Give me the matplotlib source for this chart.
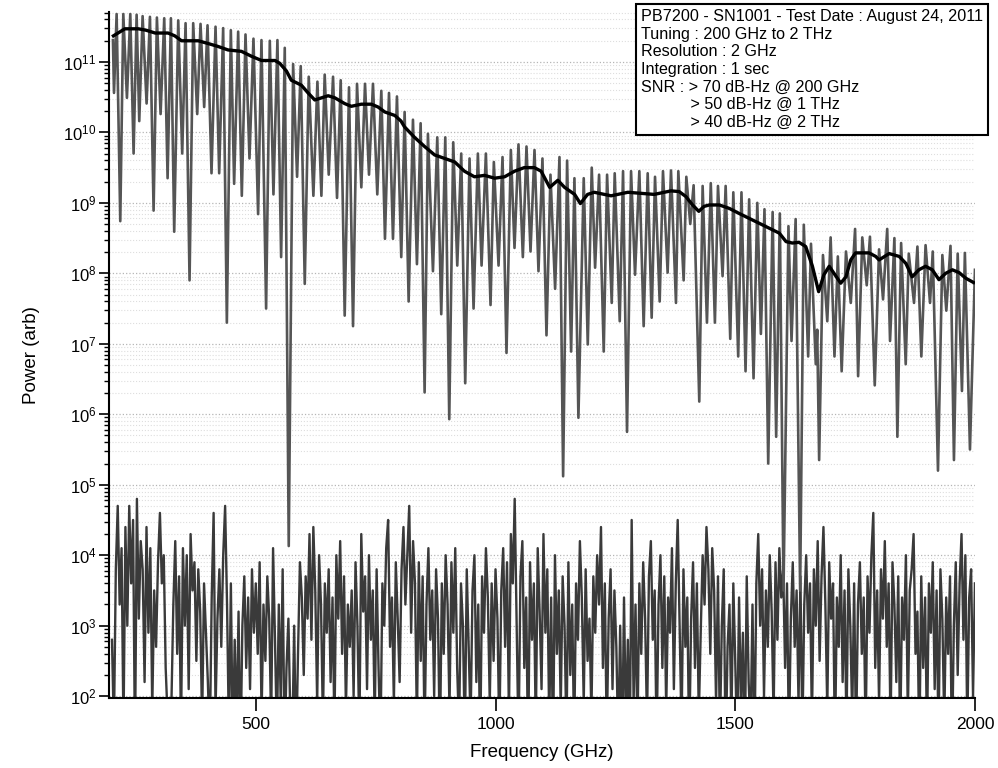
import numpy as np
import matplotlib
matplotlib.use('Agg')
import matplotlib.pyplot as plt
from matplotlib.ticker import NullFormatter, FixedLocator

plt.rcParams['font.family'] = ['Liberation Sans', 'DejaVu Sans']

# --- data (power in dB, i.e. 10*log10 of arb. power) ---

# fringe maxima (GHz, dB)
peak_f = [202.0, 209.7, 223.6, 238.2, 251.4, 263.9, 279.2, 293.7, 309.0, 322.9,
          338.2, 353.5, 369.4, 384.7, 399.3, 416.0, 431.9, 447.9, 463.2, 478.5,
          495.1, 511.8, 529.2, 545.1, 560.4, 577.8, 593.7, 610.4, 628.5, 643.7,
          661.1, 677.1, 694.4, 711.1, 727.8, 744.4, 761.8, 777.8, 794.4, 810.4,
          827.8, 843.8, 859.0, 878.5, 895.2, 911.8, 928.5, 945.8, 963.2, 979.9,
          996.5, 1014.6, 1032.0, 1047.9, 1064.6, 1081.3, 1097.9, 1114.6, 1133.4, 1149.3,
          1164.6, 1184.0, 1200.7, 1216.0, 1232.7, 1248.6, 1266.0, 1282.7, 1300.0, 1317.4,
          1332.7, 1349.3, 1366.0, 1381.3, 1398.0, 1413.2, 1432.0, 1449.0, 1464.0, 1480.0,
          1496.0, 1513.0, 1529.0, 1546.0, 1561.0, 1578.0, 1593.0, 1611.0, 1626.0, 1643.0,
          1658.0, 1671.0, 1683.0, 1699.0, 1714.0, 1731.0, 1750.0, 1765.0, 1781.0, 1800.0,
          1817.0, 1832.0, 1846.0, 1862.0, 1880.0, 1897.0, 1912.0, 1932.0, 1949.0, 1964.0,
          1979.0, 2000.0]
peak_db = [113.1, 116.8, 116.8, 116.8, 116.7, 116.5, 116.4, 116.3, 116.2, 116.2,
           115.9, 115.5, 115.5, 115.4, 115.2, 115.0, 114.8, 114.5, 114.3, 113.9,
           113.3, 113.1, 113.0, 113.1, 112.0, 109.7, 109.4, 107.9, 107.2, 108.2,
           107.9, 107.4, 106.4, 106.9, 106.9, 106.9, 105.9, 105.6, 105.1, 102.9,
           101.8, 101.3, 99.8, 99.3, 99.3, 98.6, 97.0, 96.3, 97.0, 97.0,
           95.8, 96.5, 97.5, 98.3, 98.0, 97.5, 96.3, 94.0, 96.5, 96.0,
           93.5, 93.5, 95.0, 94.0, 94.0, 94.2, 94.5, 94.5, 94.5, 94.2,
           93.7, 94.5, 94.6, 94.5, 93.7, 92.5, 92.4, 92.8, 92.4, 92.4,
           91.5, 91.5, 90.5, 90.0, 89.1, 88.7, 88.5, 86.7, 87.7, 86.9,
           84.2, 72.0, 82.6, 85.1, 82.4, 83.1, 86.3, 85.1, 85.2, 83.4,
           86.3, 85.0, 84.3, 82.8, 83.8, 84.0, 83.1, 82.6, 83.9, 82.8,
           82.9, 80.5]

# fringe minima (GHz, dB)
dip_f = [204.2, 217.3, 231.2, 245.1, 256.9, 272.2, 286.8, 301.4, 316.0, 329.8,
         346.5, 361.8, 377.8, 392.3, 407.6, 423.6, 439.6, 454.8, 470.8, 486.8,
         504.8, 521.5, 536.8, 552.8, 568.7, 586.1, 602.1, 620.1, 636.8, 652.1,
         669.4, 685.4, 702.8, 720.1, 736.1, 753.4, 769.4, 786.1, 803.4, 818.8,
         836.1, 852.1, 869.5, 886.8, 903.5, 920.2, 936.8, 954.2, 970.9, 989.6,
         1006.3, 1022.9, 1039.6, 1057.0, 1073.0, 1089.6, 1106.3, 1124.3, 1141.0, 1157.7,
         1172.9, 1192.4, 1207.7, 1225.7, 1242.4, 1259.1, 1274.3, 1291.0, 1309.0, 1325.7,
         1342.4, 1359.0, 1376.4, 1392.4, 1406.2, 1425.0, 1441.0, 1457.6, 1473.6, 1489.6,
         1506.2, 1521.5, 1538.2, 1553.5, 1568.8, 1585.4, 1600.7, 1617.4, 1635.4, 1652.1,
         1668.0, 1675.0, 1692.0, 1707.0, 1722.0, 1741.0, 1756.3, 1774.3, 1791.0, 1808.3,
         1822.9, 1838.2, 1855.6, 1872.9, 1888.2, 1906.3, 1922.9, 1940.3, 1956.2, 1972.9,
         1989.6]
dip_db = [105.6, 87.4, 104.9, 97.0, 101.6, 104.1, 88.9, 102.6, 93.5, 85.9,
          97.0, 79.0, 102.6, 103.6, 94.2, 94.2, 73.0, 92.7, 91.0, 96.3,
          88.4, 75.0, 91.2, 82.3, 41.3, 93.7, 78.5, 91.0, 91.0, 94.0,
          90.7, 74.0, 72.5, 92.2, 94.0, 91.2, 84.9, 84.9, 82.3, 76.0,
          81.3, 63.1, 80.3, 74.2, 59.3, 81.1, 64.4, 75.0, 81.1, 75.5,
          81.1, 68.7, 83.6, 82.3, 83.1, 80.3, 71.2, 77.8, 51.2, 68.9,
          59.5, 69.9, 80.8, 68.9, 75.8, 73.2, 57.5, 79.8, 72.5, 73.7,
          76.0, 80.1, 75.8, 79.0, 87.0, 61.8, 73.0, 73.0, 79.6, 70.7,
          68.2, 66.1, 65.1, 71.4, 53.0, 56.8, 35.0, 70.4, 35.0, 68.2,
          67.1, 53.5, 73.2, 68.2, 66.1, 75.8, 65.4, 78.3, 64.1, 76.3,
          70.4, 56.8, 67.1, 75.8, 68.2, 75.8, 52.0, 74.7, 53.5, 63.3,
          55.0]

# smoothed spectrum (GHz, dB)
env_f = [203, 227, 255, 271, 290, 317, 331, 345, 380, 401, 421, 442, 470, 491, 512,
         540, 550, 564, 574, 595, 609, 623, 637, 651, 665, 685, 699, 720, 741, 755,
         769, 790, 803, 810, 831, 852, 873, 894, 915, 935, 956, 977, 998, 1019, 1040,
         1060, 1081, 1095, 1113, 1130, 1144, 1165, 1177, 1192, 1206, 1241, 1276, 1331,
         1352, 1366, 1383, 1397, 1411, 1424, 1435, 1446, 1467, 1488, 1508, 1529, 1550,
         1571, 1592, 1606, 1619, 1633, 1647, 1661, 1674, 1685, 1696, 1706, 1720, 1731,
         1741, 1751, 1779, 1793, 1800, 1821, 1842, 1856, 1869, 1883, 1897, 1911, 1925,
         1939, 1953, 1967, 1981, 1997]
env_db = [113.7, 114.7, 114.7, 114.5, 114.1, 114.1, 113.7, 113.0, 113.0, 112.6, 112.2,
          111.7, 111.5, 110.8, 110.2, 110.2, 109.8, 108.7, 107.4, 106.7, 105.6, 104.6,
          104.9, 105.2, 104.9, 104.1, 103.7, 104.0, 104.0, 103.6, 102.9, 102.4, 101.6,
          100.8, 99.3, 98.0, 96.8, 96.3, 95.8, 94.5, 93.7, 93.9, 93.5, 93.7, 94.5,
          95.0, 95.0, 94.5, 92.2, 93.2, 92.2, 91.2, 89.9, 91.2, 91.5, 91.0, 91.5, 91.2,
          91.5, 91.7, 91.6, 90.9, 89.7, 88.8, 89.5, 89.7, 89.7, 89.2, 88.5, 87.8, 87.1,
          86.4, 85.7, 84.5, 84.3, 84.4, 83.8, 81.0, 77.4, 79.8, 81.0, 80.0, 78.6, 79.5,
          81.9, 82.9, 82.9, 82.4, 81.9, 82.8, 82.4, 81.4, 79.5, 80.5, 81.0, 80.5, 79.1,
          80.0, 80.5, 80.1, 79.3, 78.7]

# noise floor, 200 .. 2000 GHz in 4 GHz steps (dB)
noise_db = [
    28, 15, 38, 47, 33, 41, 15, 44, 30, 47, 36, 45, 12, 48, 31, 42, 38, 22, 44, 29, 41, 18, 35, 27, 39,
    46, 36, 40, 24, 17, 14, 19, 33, 42, 26, 37, 15, 41, 30, 40, 21, 43, 35, 39, 25, 38, 32, 16, 36, 29,
    22, 13, 34, 46, 18, 31, 38, 27, 40, 47, 33, 14, 36, 12, 28, 15, 32, 11, 30, 37, 24, 34, 21, 38, 29,
    36, 26, 39, 17, 33, 25, 37, 31, 16, 41, 28, 14, 33, 19, 38, 12, 24, 31, 17, 13, 30, 11, 26, 39, 34,
    23, 37, 31, 43, 28, 44, 35, 19, 40, 33, 16, 36, 29, 38, 22, 34, 15, 40, 31, 42, 26, 37, 18, 33, 27,
    35, 20, 39, 30, 14, 43, 32, 37, 21, 40, 28, 35, 16, 38, 24, 13, 36, 30, 41, 45, 27, 34, 19, 39, 31,
    22, 38, 44, 33, 40, 47, 29, 42, 36, 16, 39, 25, 37, 14, 33, 41, 28, 35, 20, 38, 31, 12, 36, 26, 40,
    33, 18, 39, 29, 41, 24, 15, 36, 30, 13, 38, 27, 16, 35, 40, 22, 33, 12, 37, 29, 41, 34, 19, 36, 25,
    38, 31, 14, 35, 41, 27, 39, 17, 43, 36, 48, 30, 13, 37, 42, 24, 34, 11, 39, 28, 36, 15, 41, 32, 21,
    43, 29, 38, 16, 34, 12, 40, 26, 35, 18, 37, 30, 14, 39, 23, 33, 13, 36, 28, 42, 34, 19, 38, 25, 31,
    17, 37, 29, 40, 33, 44, 24, 36, 14, 31, 38, 21, 35, 27, 13, 30, 11, 34, 15, 28, 12, 45, 19, 33, 14,
    36, 26, 39, 31, 16, 37, 42, 28, 35, 13, 33, 40, 24, 37, 18, 34, 29, 41, 21, 36, 45, 30, 15, 38, 27,
    34, 12, 31, 39, 24, 36, 17, 29, 40, 33, 44, 38, 26, 41, 35, 19, 37, 14, 30, 38, 11, 27, 33, 16, 36,
    25, 13, 34, 18, 29, 12, 37, 22, 15, 33, 11, 36, 43, 30, 38, 20, 35, 27, 40, 32, 17, 39, 28, 41, 34,
    38, 24, 36, 13, 31, 39, 27, 35, 19, 37, 14, 33, 40, 29, 36, 16, 38, 30, 42, 25, 37, 44, 33, 18, 39,
    31, 36, 12, 34, 27, 40, 22, 35, 15, 38, 30, 17, 36, 13, 33, 39, 26, 34, 14, 37, 29, 40, 46, 24, 35,
    19, 38, 31, 42, 27, 36, 15, 39, 33, 22, 37, 13, 34, 28, 40, 17, 35, 38, 43, 26, 32, 12, 37, 24, 34,
    14, 36, 29, 39, 21, 35, 13, 38, 31, 16, 34, 26, 37, 11, 30, 39, 23, 36, 43, 28, 40, 15, 34, 38, 20,
    36]

y_decades = list(range(2, 12))

info = ("PB7200 - SN1001 - Test Date : August 24, 2011\n"
        "Tuning : 200 GHz to 2 THz\n"
        "Resolution : 2 GHz\n"
        "Integration : 1 sec\n"
        "SNR : > 70 dB-Hz @ 200 GHz\n"
        "           > 50 dB-Hz @ 1 THz\n"
        "           > 40 dB-Hz @ 2 THz")


def db2p(v):
    return 10.0 ** (np.asarray(v, dtype=float) / 10.0)


fr_f = np.concatenate([peak_f, dip_f])
fr_db = np.concatenate([peak_db, dip_db])
order = np.argsort(fr_f)
noise_f = np.linspace(200, 2000, len(noise_db))

fig = plt.figure(figsize=(9.98, 7.68), dpi=100)
ax = fig.add_axes([0.1092, 0.0911, 0.8677, 0.8932])

ax.plot(noise_f, db2p(noise_db), color='#3a3a3a', lw=1.7, zorder=2)
ax.plot(fr_f[order], db2p(fr_db[order]), color='#555555', lw=1.9, zorder=3)
ax.plot(env_f, db2p(env_db), color='black', lw=2.4, zorder=4)

ax.set_yscale('log')
ax.set_xlim(193.75, 2000)
ax.set_ylim(94, 5.1e11)

ax.xaxis.set_major_locator(FixedLocator([500, 1000, 1500, 2000]))
ax.yaxis.set_major_locator(FixedLocator([10.0 ** d for d in y_decades]))
ax.yaxis.set_minor_locator(FixedLocator([k * 10.0 ** d for d in y_decades
                                         for k in range(2, 10)
                                         if k * 10.0 ** d < 5.1e11]))
ax.yaxis.set_minor_formatter(NullFormatter())

ax.yaxis.grid(True, which='major', ls=':', lw=0.9, color='#b5b5b5', zorder=0)
ax.yaxis.grid(True, which='minor', ls=':', lw=0.8, color='#dedede', zorder=0)
ax.set_axisbelow(True)

for s in ['top', 'right']:
    ax.spines[s].set_visible(False)
for s in ['left', 'bottom']:
    ax.spines[s].set_linewidth(1.5)

ax.tick_params(axis='x', which='major', direction='out', length=9, width=1.2,
               labelsize=12.5, pad=5)
ax.tick_params(axis='y', which='major', direction='out', length=7, width=1.2,
               labelsize=12, pad=2)
ax.tick_params(axis='y', which='minor', direction='out', length=3.5, width=1.0)

ax.set_xlabel('Frequency (GHz)', fontsize=13.5, labelpad=8)
ax.set_ylabel('Power (arb)', fontsize=13.5, labelpad=17)

fig.text(641 / 998, 1 - 9 / 768, info, fontsize=11.6, ha='left', va='top',
         linespacing=1.22,
         bbox=dict(boxstyle='square,pad=0.3', fc='white', ec='black', lw=1.5))

fig.savefig('out.png', dpi=100)
